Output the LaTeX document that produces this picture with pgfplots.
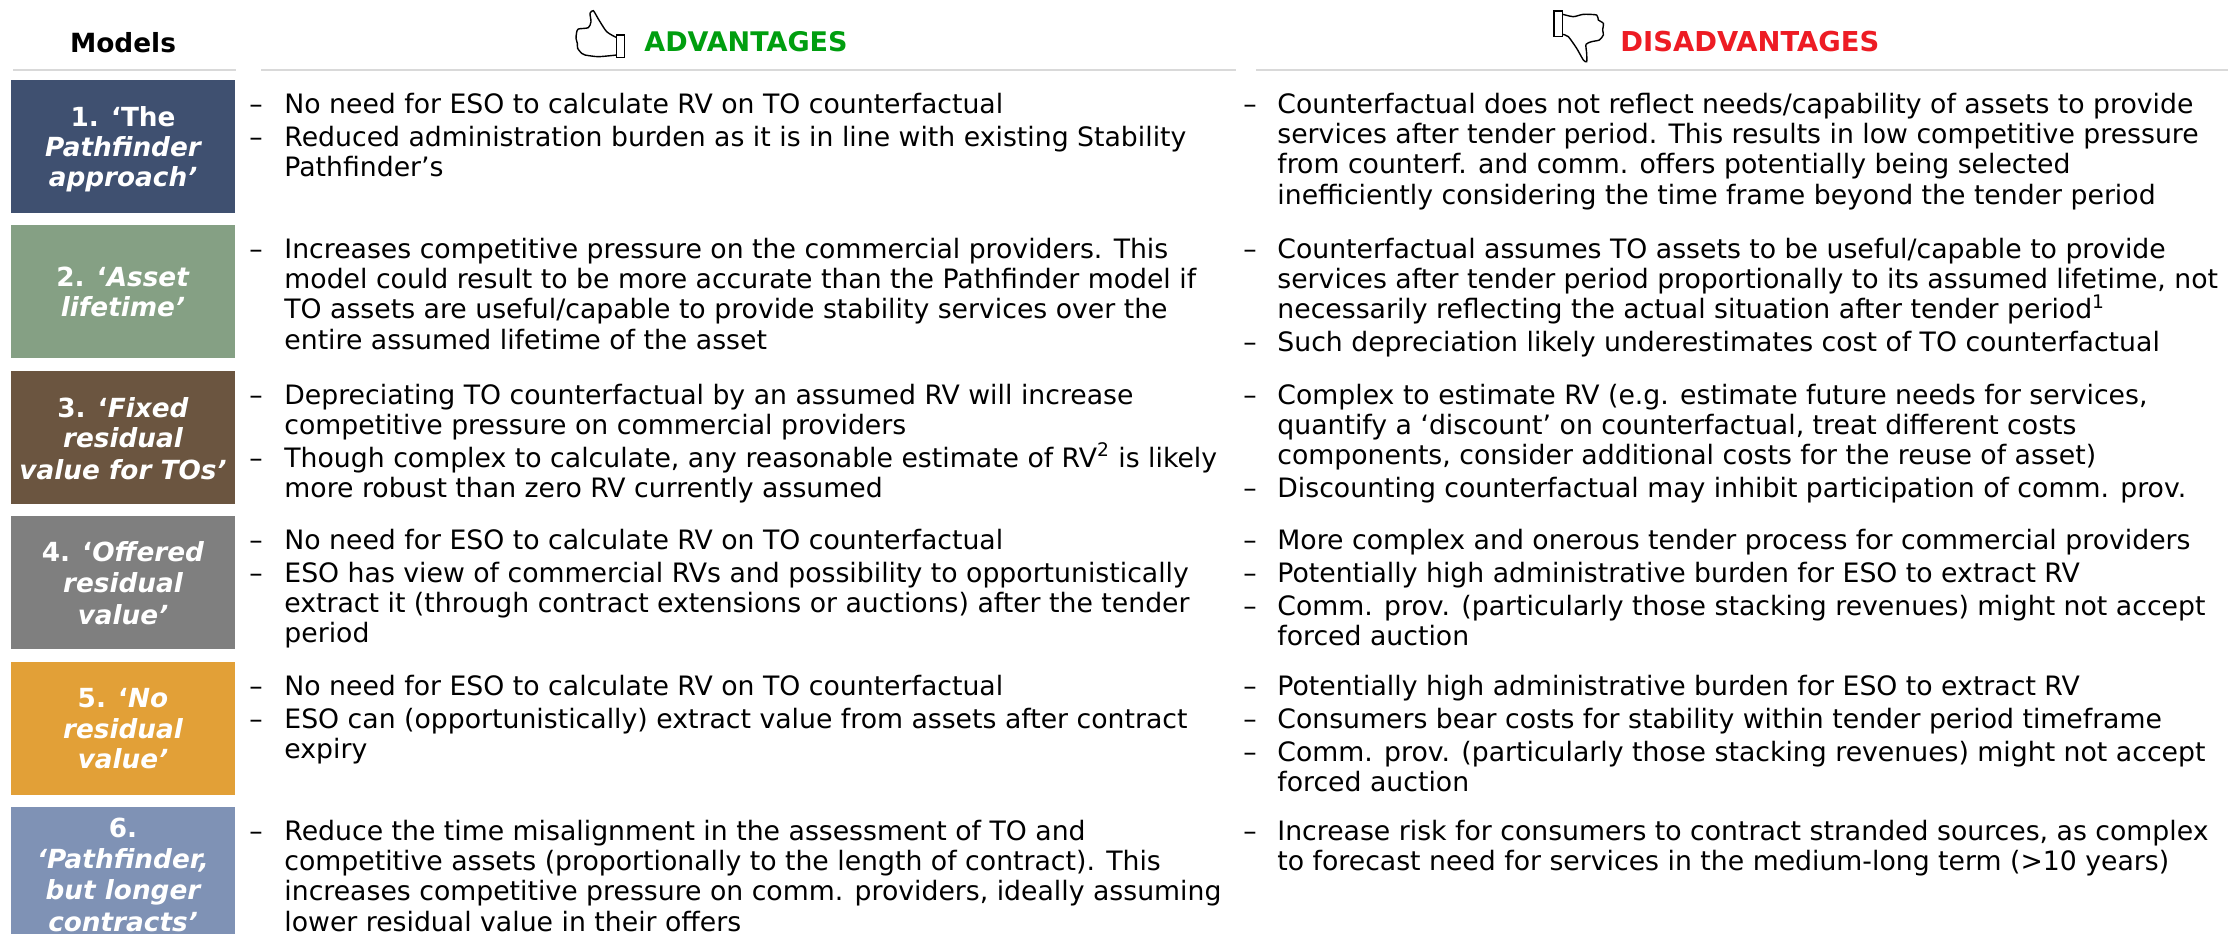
\documentclass[border=0pt]{standalone}
\usepackage{pgfplots}
\pgfplotsset{compat=1.18}
\usepackage{fontspec}
\setmainfont{DejaVu Sans}
\definecolor{b1}{HTML}{3F5070}
\definecolor{b2}{HTML}{85A084}
\definecolor{b3}{HTML}{6B5540}
\definecolor{b4}{HTML}{7F7F7F}
\definecolor{b5}{HTML}{E2A037}
\definecolor{b6}{HTML}{7F92B5}
\definecolor{rulec}{HTML}{D9D9D9}
\definecolor{grn}{HTML}{009E0F}
\definecolor{rd}{HTML}{ED1C24}
\newcommand{\fs}{\fontsize{13.35}{15}\selectfont}
\newcommand{\fm}{\fontsize{13.15}{15}\selectfont}
\newcommand{\A}[2]{\node[anchor=base west,inner sep=0pt,font=\fs,text=black] at (axis cs:284,#1) {#2};}
\newcommand{\D}[2]{\node[anchor=base west,inner sep=0pt,font=\fs,text=black] at (axis cs:1277,#1) {#2};}
\newcommand{\AB}[1]{\node[anchor=base west,inner sep=0pt,font=\fs] at (axis cs:249,#1) {–};}
\newcommand{\DB}[1]{\node[anchor=base west,inner sep=0pt,font=\fs] at (axis cs:1243,#1) {–};}
\newcommand{\M}[2]{\node[anchor=base,inner sep=0pt,font=\fm\bfseries,text=white] at (axis cs:123,#1) {#2};}
\newcommand{\BX}[3]{\addplot[draw=none,fill=#1] coordinates {(11,#2) (235,#2) (235,#3) (11,#3)} --cycle;}
\begin{document}
\begin{tikzpicture}
\begin{axis}[at={(0,0)},anchor=south west,width=1114pt,height=467pt,scale only axis,
  xmin=0,xmax=2228,ymin=0,ymax=934,y dir=reverse,hide axis,clip=false]
\BX{b1}{80}{213}
\BX{b2}{225}{358}
\BX{b3}{371}{504}
\BX{b4}{516}{649}
\BX{b5}{662}{795}
\BX{b6}{807}{934}
\addplot[rulec,line width=1pt] coordinates {(13,70) (236,70)};
\addplot[rulec,line width=1pt] coordinates {(261,70) (1236,70)};
\addplot[rulec,line width=1pt] coordinates {(1256,70) (2228,70)};
% thumb up
\addplot[black,line width=0.6pt,fill=white] coordinates {(616.7,35) (624.3,35) (624.3,57.7) (616.7,57.7)} --cycle;
\addplot[black,line width=0.7pt,smooth,tension=0.4] table[x expr=565+\thisrowno{0}/3,y expr=5+\thisrowno{1}/3] {
155 98
125 80
100 42
85 17
75 25
78 50
70 68
40 72
35 82
33 100
37 115
38 130
50 145
60 150
100 155
155 150
};
% thumb down
\addplot[black,line width=0.6pt,fill=white] coordinates {(1554,11) (1562.7,11) (1562.7,36.7) (1554,36.7)} --cycle;
\addplot[black,line width=0.7pt,smooth,tension=0.4] table[x expr=1540+\thisrowno{0}/3,y expr=5+\thisrowno{1}/3] {
68 28
100 35
130 28
170 30
175 45
190 55
188 75
190 90
178 105
155 110
138 118
140 145
140 170
130 165
110 130
85 95
68 88
};
\node[anchor=base,inner sep=0pt,font=\fontsize{13.2}{15}\selectfont\bfseries] at (axis cs:123,52) {Models};
\node[anchor=base west,inner sep=0pt,font=\fontsize{13.5}{15}\selectfont\bfseries,text=grn] at (axis cs:644,51) {ADVANTAGES};
\node[anchor=base west,inner sep=0pt,font=\fontsize{13.7}{15}\selectfont\bfseries,text=rd] at (axis cs:1620,51) {DISADVANTAGES};
% model labels
\M{126}{1. ‘The}\M{156}{\itshape Pathfinder}\M{186}{\itshape approach’}
\M{286}{2. ‘\textit{Asset}}\M{316}{\itshape lifetime’}
\M{417}{3. ‘\textit{Fixed}}\M{447}{\itshape residual}\M{479}{\itshape value for TOs’}
\M{561}{4. ‘\textit{Offered}}\M{592}{\itshape residual}\M{624}{\itshape value’}
\M{707}{5. ‘\textit{No}}\M{738}{\itshape residual}\M{768}{\itshape value’}
\M{837}{6.}\M{868}{\itshape ‘Pathfinder,}\M{899}{\itshape but longer}\M{931}{\itshape contracts’}
% row 1
\AB{113}\A{113}{No need for ESO to calculate RV on TO counterfactual}
\AB{146.3}\A{146.3}{Reduced administration burden as it is in line with existing Stability}
\A{176.7}{Pathfinder’s}
\DB{113}\D{113}{Counterfactual does not reflect needs/capability of assets to provide}
\D{143.4}{services after tender period. This results in low competitive pressure}
\D{173.8}{from counterf. and comm. offers potentially being selected}
\D{204.2}{inefficiently considering the time frame beyond the tender period}
% row 2
\AB{258}\A{258}{Increases competitive pressure on the commercial providers. This}
\A{288.4}{model could result to be more accurate than the Pathfinder model if}
\A{318.8}{TO assets are useful/capable to provide stability services over the}
\A{349.2}{entire assumed lifetime of the asset}
\DB{258}\D{258}{Counterfactual assumes TO assets to be useful/capable to provide}
\D{288.4}{services after tender period proportionally to its assumed lifetime, not}
\D{318.8}{necessarily reflecting the actual situation after tender period\textsuperscript{1}}
\DB{351.8}\D{351.8}{Such depreciation likely underestimates cost of TO counterfactual}
% row 3
\AB{404}\A{404}{Depreciating TO counterfactual by an assumed RV will increase}
\A{434.4}{competitive pressure on commercial providers}
\AB{467.4}\A{467.4}{Though complex to calculate, any reasonable estimate of RV\textsuperscript{2} is likely}
\A{497.8}{more robust than zero RV currently assumed}
\DB{404}\D{404}{Complex to estimate RV (e.g. estimate future needs for services,}
\D{434.4}{quantify a ‘discount’ on counterfactual, treat different costs}
\D{464.8}{components, consider additional costs for the reuse of asset)}
\DB{497.8}\D{497.8}{Discounting counterfactual may inhibit participation of comm. prov.}
% row 4
\AB{549}\A{549}{No need for ESO to calculate RV on TO counterfactual}
\AB{582}\A{582}{ESO has view of commercial RVs and possibility to opportunistically}
\A{612.4}{extract it (through contract extensions or auctions) after the tender}
\A{642.8}{period}
\DB{549}\D{549}{More complex and onerous tender process for commercial providers}
\DB{582}\D{582}{Potentially high administrative burden for ESO to extract RV}
\DB{615}\D{615}{Comm. prov. (particularly those stacking revenues) might not accept}
\D{645.4}{forced auction}
% row 5
\AB{695}\A{695}{No need for ESO to calculate RV on TO counterfactual}
\AB{728}\A{728}{ESO can (opportunistically) extract value from assets after contract}
\A{758.4}{expiry}
\DB{695}\D{695}{Potentially high administrative burden for ESO to extract RV}
\DB{728}\D{728}{Consumers bear costs for stability within tender period timeframe}
\DB{761}\D{761}{Comm. prov. (particularly those stacking revenues) might not accept}
\D{791.4}{forced auction}
% row 6
\AB{840}\A{840}{Reduce the time misalignment in the assessment of TO and}
\A{870.4}{competitive assets (proportionally to the length of contract). This}
\A{900.8}{increases competitive pressure on comm. providers, ideally assuming}
\A{931.2}{lower residual value in their offers}
\DB{840}\D{840}{Increase risk for consumers to contract stranded sources, as complex}
\D{870.4}{to forecast need for services in the medium-long term (>10 years)}
\end{axis}
\pgfresetboundingbox
\path[use as bounding box] (0,0) rectangle (1114pt,467pt);
\end{tikzpicture}
\end{document}
